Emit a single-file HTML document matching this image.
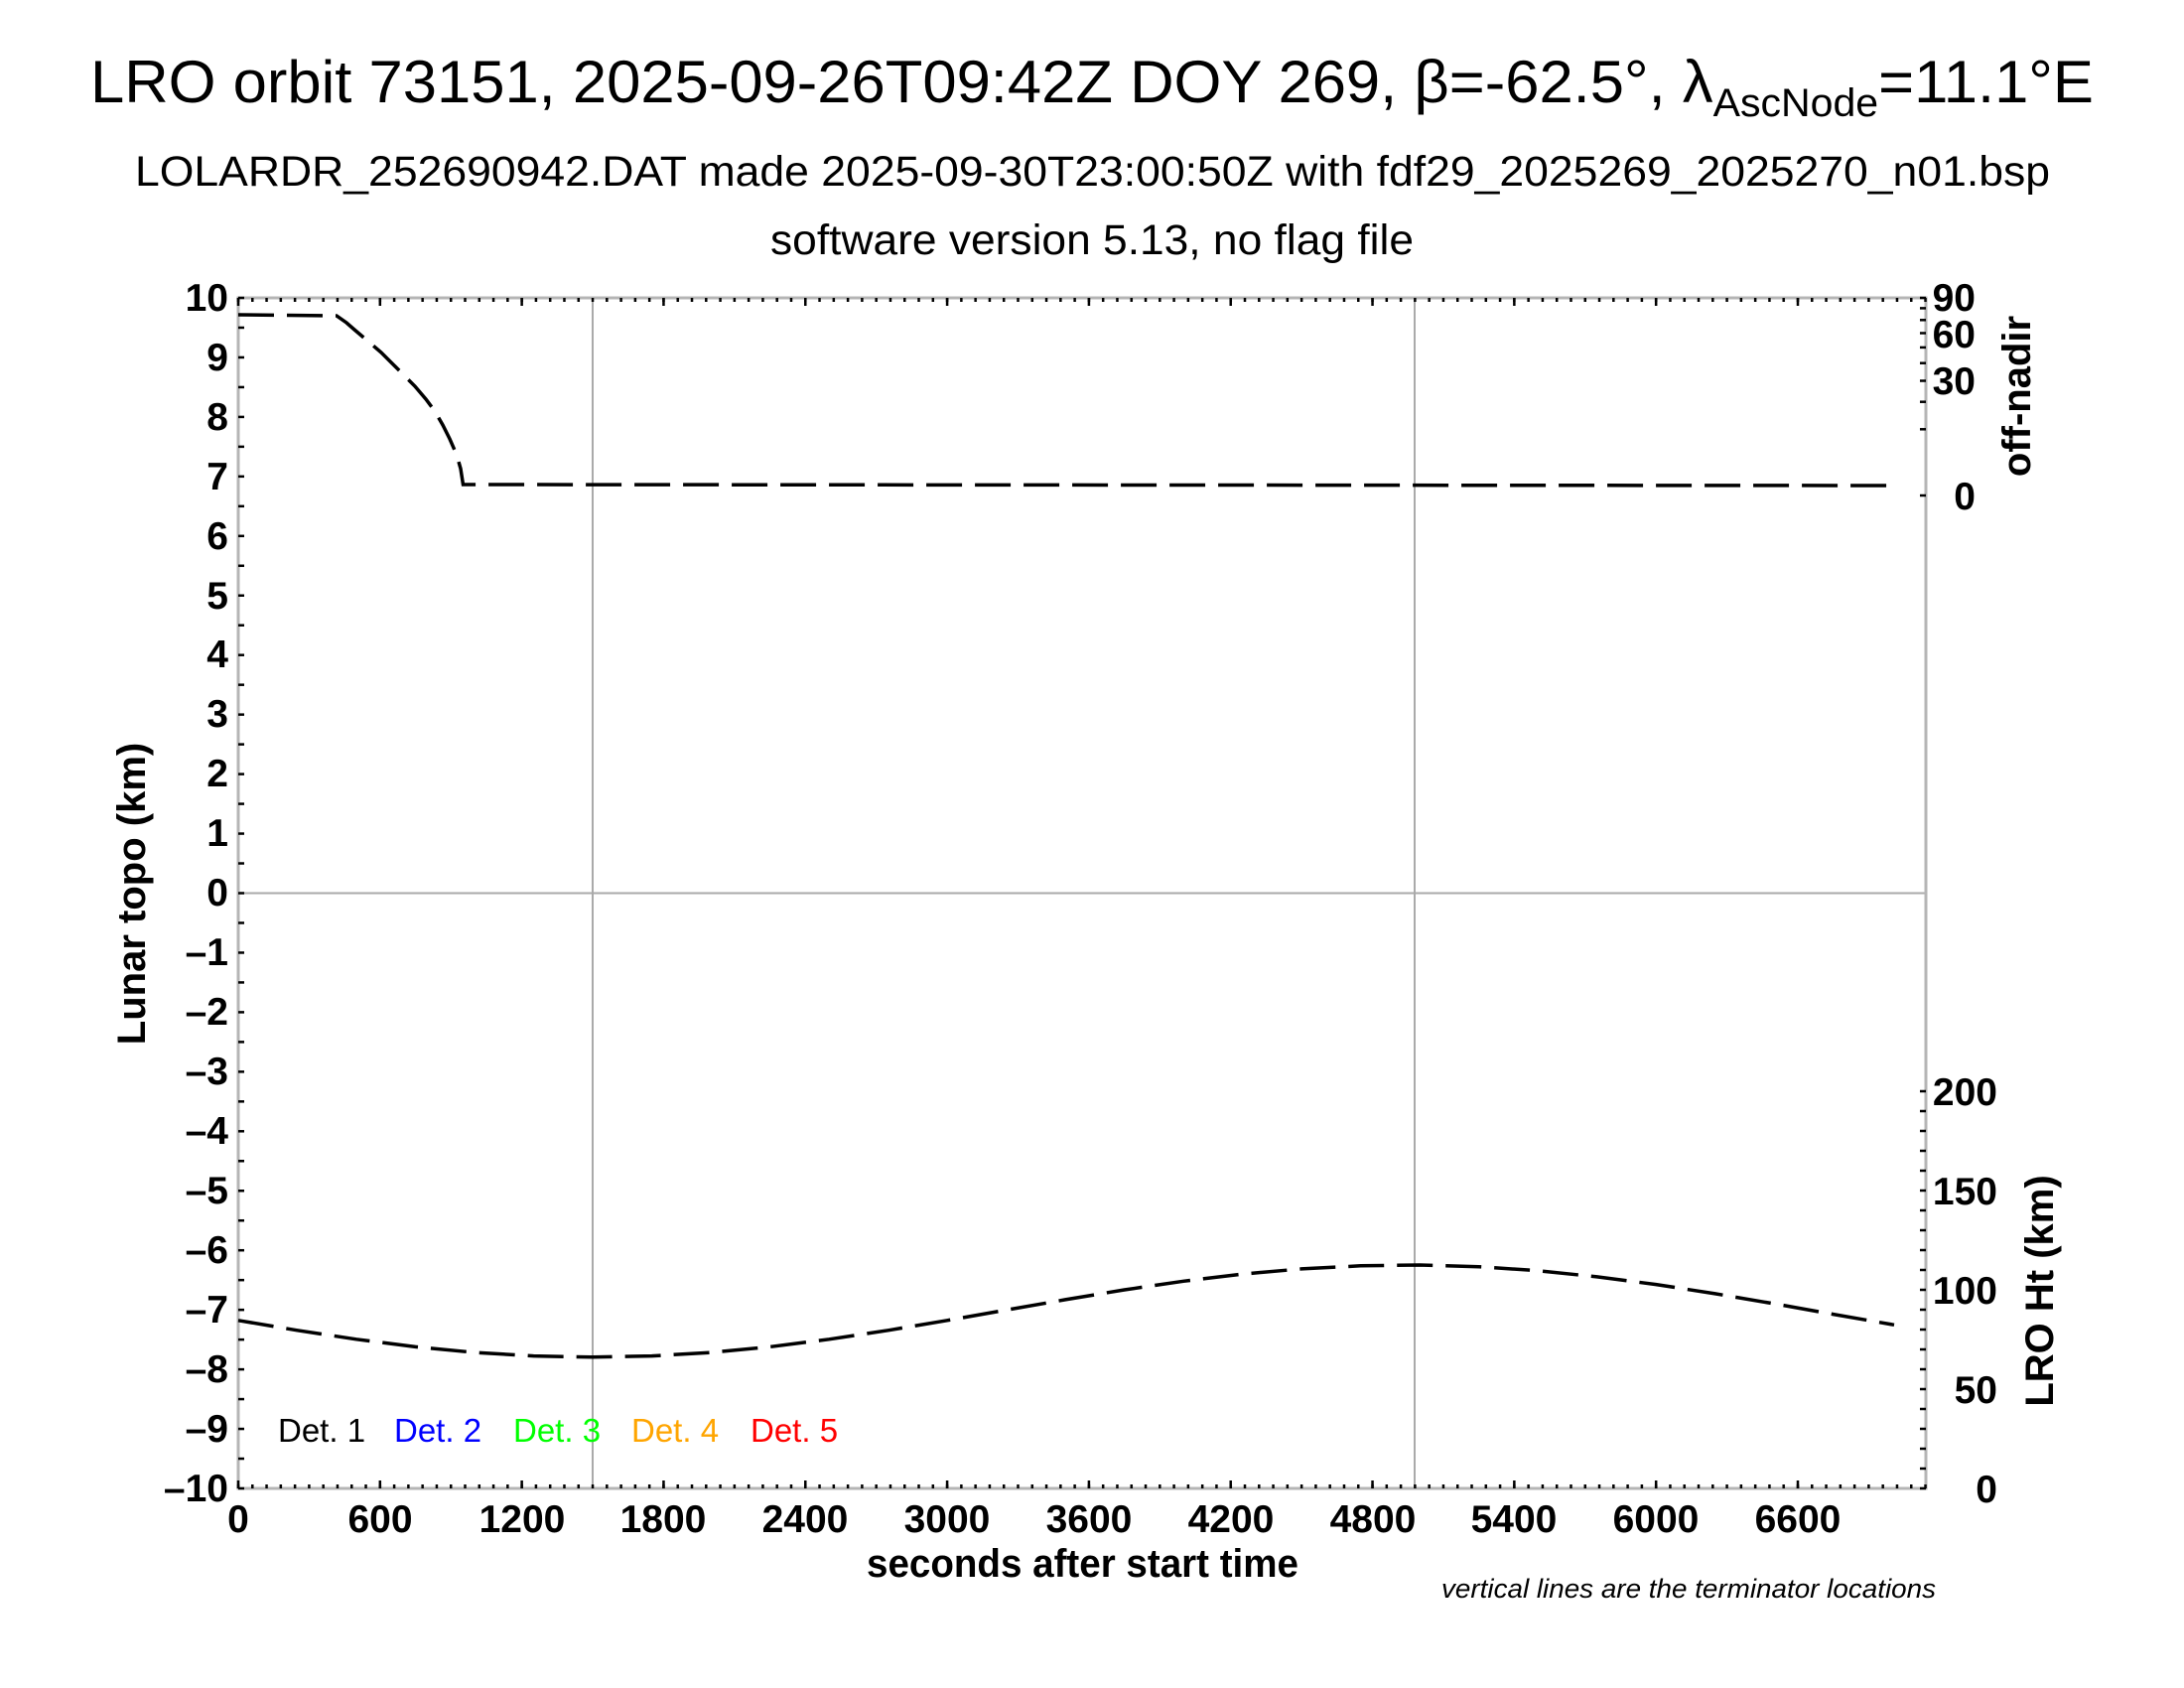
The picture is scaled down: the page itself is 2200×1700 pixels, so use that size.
<!DOCTYPE html>
<html><head><meta charset="utf-8"><style>
html,body{margin:0;padding:0;background:#fff;}
svg{display:block;}
text{font-family:"Liberation Sans",Arial,sans-serif;}
</style></head><body>
<svg width="2200" height="1700" viewBox="0 0 2200 1700" xmlns="http://www.w3.org/2000/svg">
<defs>
<pattern id="xmin" patternUnits="userSpaceOnUse" x="238.75" y="0" width="14.2818" height="1700"><rect x="0" y="0" width="2.5" height="1700" fill="#000"/></pattern>
<pattern id="xmaj" patternUnits="userSpaceOnUse" x="238.75" y="0" width="142.818" height="1700"><rect x="0" y="0" width="2.5" height="1700" fill="#000"/></pattern>
<pattern id="ymin" patternUnits="userSpaceOnUse" x="0" y="298.75" width="2200" height="29.975"><rect x="0" y="0" width="2200" height="2.5" fill="#000"/></pattern>
<pattern id="yh" patternUnits="userSpaceOnUse" x="0" y="1097.75" width="2200" height="20"><rect x="0" y="0" width="2200" height="2.5" fill="#000"/></pattern>
</defs>
<rect width="2200" height="1700" fill="#fff"/>
<!-- titles -->
<text x="91" y="103" font-size="60" textLength="2018" lengthAdjust="spacingAndGlyphs">LRO orbit 73151, 2025-09-26T09:42Z DOY 269, β=-62.5°, λ<tspan font-size="40" dy="14">AscNode</tspan><tspan dy="-14">=11.1°E</tspan></text>
<text x="136" y="187" font-size="43" textLength="1929" lengthAdjust="spacingAndGlyphs">LOLARDR_252690942.DAT made 2025-09-30T23:00:50Z with fdf29_2025269_2025270_n01.bsp</text>
<text x="776" y="256" font-size="43" textLength="648" lengthAdjust="spacingAndGlyphs">software version 5.13, no flag file</text>

<!-- grid -->
<line x1="240" y1="899.5" x2="1940" y2="899.5" stroke="#aaa" stroke-width="2"/>
<line x1="597" y1="300" x2="597" y2="1499" stroke="#aaa" stroke-width="2"/>
<line x1="1425" y1="300" x2="1425" y2="1499" stroke="#aaa" stroke-width="2"/>
<!-- frame -->
<rect x="240" y="300" width="1700" height="1199" fill="none" stroke="#b5b5b5" stroke-width="3"/>

<!-- ticks -->
<rect x="238" y="1495" width="1704" height="4" fill="url(#xmin)"/>
<rect x="238" y="1491" width="1704" height="8" fill="url(#xmaj)"/>
<rect x="238" y="300" width="1704" height="4" fill="url(#xmin)"/>
<rect x="238" y="300" width="1704" height="8" fill="url(#xmaj)"/>
<rect x="240" y="298" width="6" height="1203" fill="url(#ymin)"/>
<rect x="1934" y="1097" width="6" height="404" fill="url(#yh)"/>
<g stroke="#000" stroke-width="2.5">
<line x1="1934" y1="499" x2="1940" y2="499"/>
<line x1="1934" y1="432.3" x2="1940" y2="432.3"/>
<line x1="1934" y1="404.7" x2="1940" y2="404.7"/>
<line x1="1934" y1="383.5" x2="1940" y2="383.5"/>
<line x1="1934" y1="365.7" x2="1940" y2="365.7"/>
<line x1="1934" y1="349.9" x2="1940" y2="349.9"/>
<line x1="1934" y1="335.5" x2="1940" y2="335.5"/>
<line x1="1934" y1="322.3" x2="1940" y2="322.3"/>
<line x1="1934" y1="310.4" x2="1940" y2="310.4"/>
<line x1="1934" y1="300" x2="1940" y2="300"/>
</g>

<!-- series -->
<path d="M240,317 L339,318 L349,325 L357,332 L370,343 L384,355 L395,366 L406,377 L418,389 L429,402 L438,414 L446,428 L453,442 L460,458 L464,472 L466.5,488 L1908,489" fill="none" stroke="#000" stroke-width="3.5" stroke-dasharray="36 13"/>
<polyline points="240,1329.8 299.5,1339.8 359,1348.8 418.5,1356.4 478,1362.1 537.5,1365.6 597,1366.8 656.6,1365.6 716.1,1362.1 775.6,1356.4 835.1,1348.8 894.6,1339.8 954.1,1329.8 1013.6,1319.3 1073.1,1308.9 1132.6,1299.0 1192.1,1290.3 1251.6,1283.1 1311.1,1277.9 1370.6,1274.8 1430.2,1274.0 1489.7,1275.7 1549.2,1279.7 1608.7,1285.9 1668.2,1293.6 1727.7,1302.9 1787.2,1313 1846.7,1323.6 1908,1334.3" fill="none" stroke="#000" stroke-width="3.5" stroke-dasharray="36 13"/>

<!-- left tick labels -->
<g font-size="39" text-anchor="end" font-weight="bold">
<text x="230" y="313">10</text>
<text x="230" y="373">9</text>
<text x="230" y="433">8</text>
<text x="230" y="493">7</text>
<text x="230" y="553">6</text>
<text x="230" y="613">5</text>
<text x="230" y="672">4</text>
<text x="230" y="732">3</text>
<text x="230" y="792">2</text>
<text x="230" y="852">1</text>
<text x="230" y="912">0</text>
<text x="230" y="972">–1</text>
<text x="230" y="1032">–2</text>
<text x="230" y="1092">–3</text>
<text x="230" y="1152">–4</text>
<text x="230" y="1212">–5</text>
<text x="230" y="1272">–6</text>
<text x="230" y="1332">–7</text>
<text x="230" y="1392">–8</text>
<text x="230" y="1452">–9</text>
<text x="230" y="1512">–10</text>
</g>
<!-- x tick labels -->
<g font-size="39" text-anchor="middle" font-weight="bold">
<text x="240" y="1543">0</text>
<text x="383" y="1543">600</text>
<text x="526" y="1543">1200</text>
<text x="668" y="1543">1800</text>
<text x="811" y="1543">2400</text>
<text x="954" y="1543">3000</text>
<text x="1097" y="1543">3600</text>
<text x="1240" y="1543">4200</text>
<text x="1383" y="1543">4800</text>
<text x="1525" y="1543">5400</text>
<text x="1668" y="1543">6000</text>
<text x="1811" y="1543">6600</text>
</g>
<!-- right labels -->
<g font-size="39" text-anchor="end" font-weight="bold">
<text x="1990" y="313">90</text>
<text x="1990" y="350">60</text>
<text x="1990" y="397">30</text>
<text x="1990" y="513">0</text>
<text x="2012" y="1113">200</text>
<text x="2012" y="1213">150</text>
<text x="2012" y="1313">100</text>
<text x="2012" y="1413">50</text>
<text x="2012" y="1513">0</text>
</g>
<!-- axis titles -->
<text x="873" y="1588" font-size="40" font-weight="bold" textLength="435" lengthAdjust="spacingAndGlyphs">seconds after start time</text>
<text transform="translate(146,900) rotate(-90)" font-size="40" font-weight="bold" text-anchor="middle">Lunar topo (km)</text>
<text transform="translate(2045,399) rotate(-90)" font-size="40" font-weight="bold" text-anchor="middle">off-nadir</text>
<text transform="translate(2068,1300) rotate(-90)" font-size="40" font-weight="bold" text-anchor="middle">LRO Ht (km)</text>
<text x="1452" y="1609" font-size="27" font-style="italic" textLength="498" lengthAdjust="spacingAndGlyphs">vertical lines are the terminator locations</text>
<!-- legend -->
<g font-size="33">
<text x="280" y="1452" fill="#000">Det. 1</text>
<text x="397" y="1452" fill="#0000ff">Det. 2</text>
<text x="517" y="1452" fill="#00ff00">Det. 3</text>
<text x="636" y="1452" fill="#ffa500">Det. 4</text>
<text x="756" y="1452" fill="#ff0000">Det. 5</text>
</g>
</svg>
</body></html>
